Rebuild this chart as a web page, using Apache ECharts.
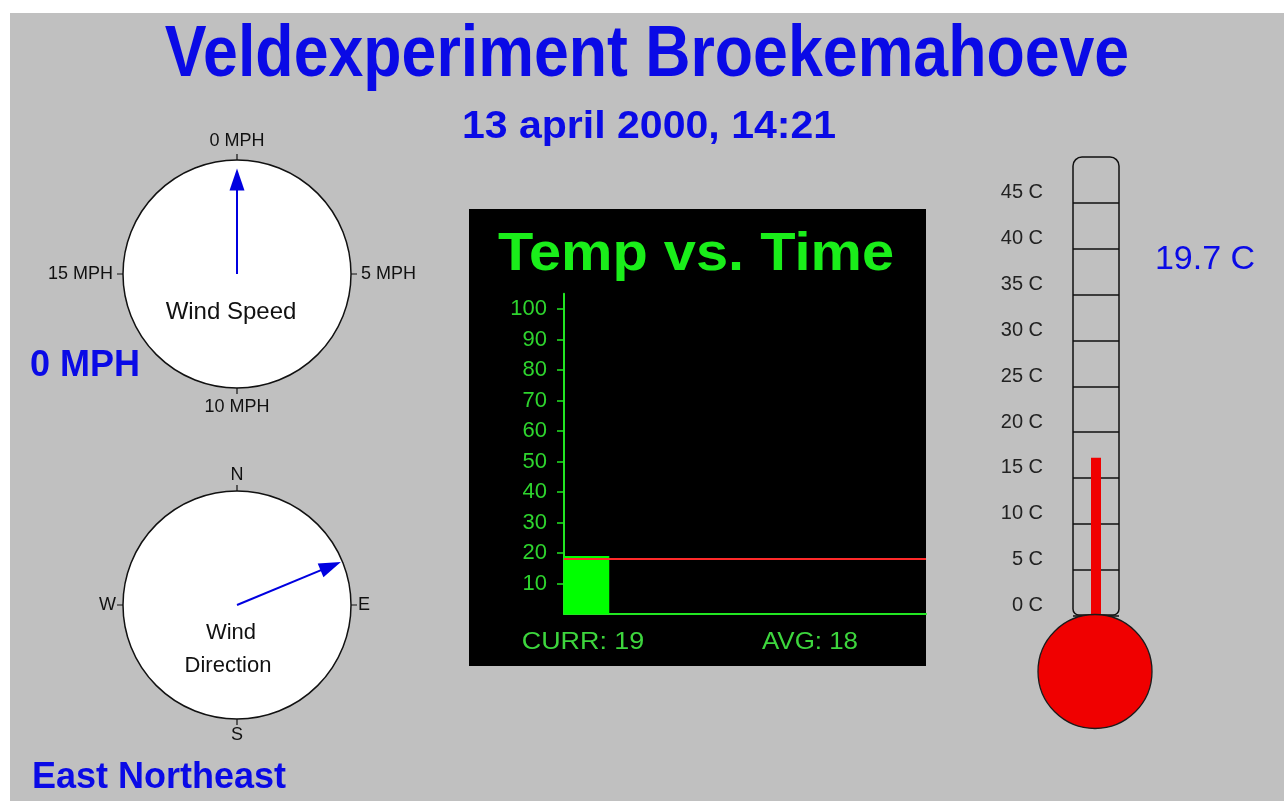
<!DOCTYPE html>
<html>
<head>
<meta charset="utf-8">
<title>Veldexperiment Broekemahoeve</title>
<script src="https://cdn.jsdelivr.net/npm/echarts@6/dist/echarts.min.js"></script>
<style>
  html, body { margin: 0; padding: 0; background: #fff; }
  #main { width: 1284px; height: 801px; }
</style>
</head>
<body>
<div id="main"></div>
<script>
// station header
var stationTitle = 'Veldexperiment Broekemahoeve';
var stationTime = '13 april 2000, 14:21';

// wind speed dial
var speedTicks = [0, 5, 10, 15];
var speedTickLabels = ['0 MPH', '5 MPH', '10 MPH', '15 MPH'];
var windSpeed = [0];
var windSpeedText = ['0 MPH'];

// wind direction dial (degrees from north)
var compassTicks = [0, 90, 180, 270];
var compassTickLabels = ['N', 'E', 'S', 'W'];
var windDirection = [67.5];
var windDirectionText = ['East Northeast'];

// temp vs. time
var sampleSlots = ['1', '2', '3', '4', '5', '6', '7', '8'];
var tempSamples = [19, null, null, null, null, null, null, null];
var tempAverage = [18];
var tempTicks = [10, 20, 30, 40, 50, 60, 70, 80, 90, 100];

// thermometer
var thermoTicks = [0, 5, 10, 15, 20, 25, 30, 35, 40, 45];
var thermoTickLabels = ['0 C', '5 C', '10 C', '15 C', '20 C', '25 C', '30 C', '35 C', '40 C', '45 C'];
var mercuryLevel = [17.2];
var tempReading = ['19.7 C'];

var FONT = '"Liberation Sans", Arial, sans-serif';
var BLUE = '#0a0ae6';
var GREEN = '#2ed42e';

var myChart = echarts.init(document.getElementById('main'));

function dialAxis(idx, max, ticks, labels, margin) {
  return {
    polarIndex: idx,
    type: 'value',
    min: 0,
    max: max,
    interval: ticks[1] - ticks[0],
    startAngle: 90,
    clockwise: true,
    axisLine: { lineStyle: { color: '#111', width: 1.5 } },
    axisTick: { length: 6, lineStyle: { color: '#111', width: 1.2 } },
    axisLabel: {
      margin: margin,
      color: '#111',
      fontSize: 18,
      fontFamily: FONT,
      formatter: function (v) {
        var i = ticks.indexOf(v);
        return i < 0 ? '' : labels[i];
      }
    },
    splitLine: { show: false },
    splitArea: { show: true, areaStyle: { color: ['#fff'] } }
  };
}

function needle(idx, value, max, reach) {
  return {
    type: 'line',
    coordinateSystem: 'polar',
    polarIndex: idx,
    silent: true,
    animation: false,
    lineStyle: { color: '#0000e0', width: 2 },
    itemStyle: { color: '#0000e0' },
    data: [
      { value: [0, value], symbol: 'none' },
      { value: [reach, value], symbol: 'triangle', symbolSize: [15, 22], symbolRotate: -value / max * 360 }
    ],
    z: 5
  };
}

var option = {
  backgroundColor: '#fff',
  animation: false,
  polar: [
    { center: [237, 274], radius: 114 },
    { center: [237, 605], radius: 114 }
  ],
  angleAxis: [
    dialAxis(0, 20, speedTicks, speedTickLabels, 10),
    dialAxis(1, 360, compassTicks, compassTickLabels, 7)
  ],
  radiusAxis: [
    { polarIndex: 0, min: 0, max: 1, show: false },
    { polarIndex: 1, min: 0, max: 1, show: false }
  ],
  grid: [
    { left: 564, top: 293.75, width: 362, height: 320.25 },
    { left: 1073, top: 157, width: 46, height: 458.5 }
  ],
  xAxis: [
    {
      gridIndex: 0,
      type: 'category',
      data: sampleSlots,
      axisLine: { lineStyle: { color: '#22e622', width: 2 } },
      axisTick: { show: false },
      axisLabel: { show: false }
    },
    { gridIndex: 1, type: 'category', data: ['T'], show: false }
  ],
  yAxis: [
    {
      gridIndex: 0,
      type: 'value',
      min: 0,
      max: 105,
      axisLine: { show: true, lineStyle: { color: '#22e622', width: 2 } },
      axisTick: { show: true, length: 7, customValues: tempTicks, lineStyle: { color: '#22e622', width: 1.5 } },
      axisLabel: { customValues: tempTicks, margin: 17, color: GREEN, fontSize: 22, fontFamily: FONT },
      splitLine: { show: false }
    },
    {
      gridIndex: 1,
      type: 'value',
      min: 0,
      max: 50,
      interval: 5,
      axisLine: { show: false },
      axisTick: { show: false },
      axisLabel: {
        customValues: thermoTicks,
        margin: 30,
        color: '#222',
        fontSize: 20,
        fontFamily: FONT,
        verticalAlign: 'bottom',
        formatter: function (v) { return thermoTickLabels[thermoTicks.indexOf(v)]; }
      },
      splitLine: { show: true, showMaxLine: false, lineStyle: { color: '#111', width: 1.5 } }
    }
  ],
  series: [
    needle(0, windSpeed[0], 20, 0.83),
    needle(1, windDirection[0], 360, 0.89),
    {
      type: 'bar',
      xAxisIndex: 0,
      yAxisIndex: 0,
      data: tempSamples,
      barCategoryGap: '0%',
      itemStyle: { color: '#00ff00' },
      markLine: {
        silent: true,
        symbol: ['none', 'none'],
        label: { show: false },
        lineStyle: { color: '#ff2a2a', width: 2, type: 'solid' },
        data: [{ yAxis: tempAverage[0] }]
      }
    },
    {
      type: 'bar',
      xAxisIndex: 1,
      yAxisIndex: 1,
      data: mercuryLevel,
      barWidth: 10,
      itemStyle: { color: '#f00000' }
    }
  ],
  graphic: [
    { type: 'rect', z: -100, shape: { x: 10, y: 13, width: 1274, height: 788 }, style: { fill: '#c0c0c0' } },
    { type: 'rect', z: -90, shape: { x: 469, y: 209, width: 457, height: 457 }, style: { fill: '#000' } },
    // thermometer tube and bulb
    { type: 'rect', z: 10, shape: { x: 1073, y: 157, width: 46, height: 458, r: [9, 9, 6, 6] }, style: { fill: 'none', stroke: '#111', lineWidth: 1.5 } },
    { type: 'circle', z: 10, shape: { cx: 1095, cy: 671.5, r: 57 }, style: { fill: '#f00000', stroke: '#1a1a1a', lineWidth: 1.3 } },
    // texts
    { type: 'text', z: 50, x: 647, y: 56, scaleX: 0.87, style: { text: stationTitle, font: 'bold 72px ' + FONT, fill: BLUE, align: 'center', verticalAlign: 'middle' } },
    { type: 'text', z: 50, x: 649, y: 128, scaleX: 1.08, style: { text: stationTime, font: 'bold 38px ' + FONT, fill: BLUE, align: 'center', verticalAlign: 'middle' } },
    { type: 'text', z: 50, x: 30, y: 366, style: { text: windSpeedText[0], font: 'bold 36px ' + FONT, fill: BLUE, align: 'left', verticalAlign: 'middle' } },
    { type: 'text', z: 50, x: 32, y: 778, style: { text: windDirectionText[0], font: 'bold 36px ' + FONT, fill: BLUE, align: 'left', verticalAlign: 'middle' } },
    { type: 'text', z: 50, x: 1205, y: 260, style: { text: tempReading[0], font: '34px ' + FONT, fill: BLUE, align: 'center', verticalAlign: 'middle' } },
    { type: 'text', z: 50, x: 231, y: 312, style: { text: 'Wind Speed', font: '24px ' + FONT, fill: '#111', align: 'center', verticalAlign: 'middle' } },
    { type: 'text', z: 50, x: 231, y: 633, style: { text: 'Wind', font: '22px ' + FONT, fill: '#111', align: 'center', verticalAlign: 'middle' } },
    { type: 'text', z: 50, x: 228, y: 666, style: { text: 'Direction', font: '22px ' + FONT, fill: '#111', align: 'center', verticalAlign: 'middle' } },
    { type: 'text', z: 50, x: 696, y: 255, scaleX: 1.07, style: { text: 'Temp vs. Time', font: 'bold 54px ' + FONT, fill: '#1aee1a', align: 'center', verticalAlign: 'middle' } },
    { type: 'text', z: 50, x: 583, y: 642, scaleX: 1.12, style: { text: 'CURR: ' + tempSamples[0], font: '24px ' + FONT, fill: '#3dd63d', align: 'center', verticalAlign: 'middle' } },
    { type: 'text', z: 50, x: 810, y: 642, scaleX: 1.08, style: { text: 'AVG: ' + tempAverage[0], font: '24px ' + FONT, fill: '#3dd63d', align: 'center', verticalAlign: 'middle' } }
  ]
};

myChart.setOption(option);
</script>
</body>
</html>
